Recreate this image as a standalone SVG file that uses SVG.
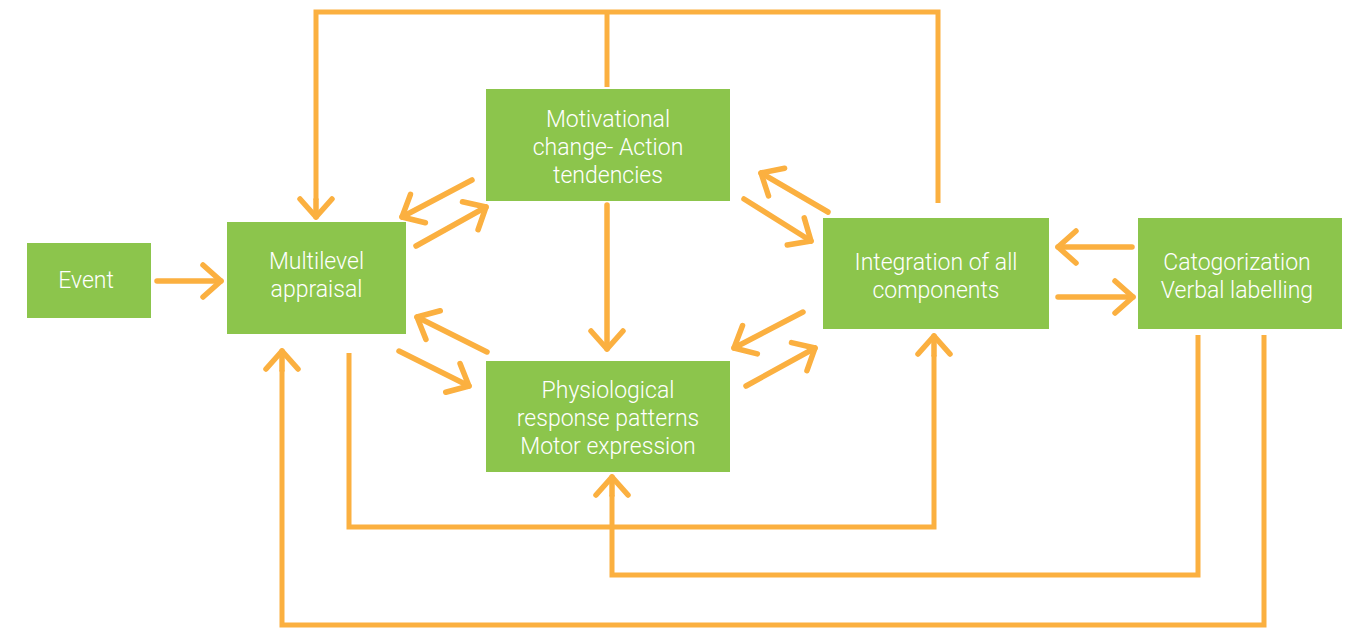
<svg xmlns="http://www.w3.org/2000/svg" width="1358" height="629" viewBox="0 0 1358 629">
  <defs>
    <style>
      .box { fill: #8CC54C; }
      .lbl { fill: #ffffff; font-family: Roboto, "Liberation Sans", sans-serif; font-size: 23px; font-weight: 300; text-anchor: middle; }
      .wire { fill: none; stroke: #FBB040; stroke-width: 5; stroke-linejoin: miter; }
      .arr { fill: none; stroke: #FBB040; stroke-width: 5.5; stroke-linecap: round; marker-end: url(#chev); }
    </style>
    <marker id="chev" markerUnits="userSpaceOnUse" viewBox="-24 -20 30 40" refX="0" refY="0" markerWidth="30" markerHeight="40" orient="auto">
      <path d="M-18,-16 L0,0 L-18,16" fill="none" stroke="#FBB040" stroke-width="5.5" stroke-linecap="round" stroke-linejoin="round"/>
    </marker>
  </defs>

  <g id="connectors">
    <!-- top feedback loop -->
    <polyline class="wire" points="607,87 607,12"/>
    <polyline class="wire" points="938,203 938,12 316,12 316,200"/>
    <line class="arr" x1="316" y1="200" x2="316" y2="217"/>
    <!-- event to appraisal -->
    <line class="arr" x1="157" y1="281" x2="221" y2="281"/>
    <!-- appraisal <-> motivational -->
    <line class="arr" x1="472" y1="180" x2="402" y2="217"/>
    <line class="arr" x1="416" y1="246" x2="486" y2="207"/>
    <!-- motivational <-> integration -->
    <line class="arr" x1="828" y1="212" x2="761" y2="173"/>
    <line class="arr" x1="744" y1="199" x2="811" y2="241"/>
    <!-- appraisal <-> physiological -->
    <line class="arr" x1="487" y1="352" x2="417" y2="317"/>
    <line class="arr" x1="399" y1="351" x2="469" y2="386"/>
    <!-- physiological <-> integration -->
    <line class="arr" x1="803" y1="312" x2="734" y2="348"/>
    <line class="arr" x1="746" y1="386" x2="815" y2="348"/>
    <!-- motivational to physiological -->
    <line class="arr" x1="607" y1="205" x2="607" y2="349"/>
    <!-- integration <-> categorization -->
    <line class="arr" x1="1132" y1="247" x2="1058" y2="247"/>
    <line class="arr" x1="1058" y1="297" x2="1133" y2="297"/>
    <!-- lower feedback loops -->
    <polyline class="wire" points="349,353 349,527 934,527 934,355"/>
    <line class="arr" x1="934" y1="355" x2="934" y2="336"/>
    <polyline class="wire" points="1198,335 1198,575 612,575 612,495"/>
    <line class="arr" x1="612" y1="495" x2="612" y2="477"/>
    <polyline class="wire" points="1264,335 1264,625 282,625 282,370"/>
    <line class="arr" x1="282" y1="370" x2="282" y2="351"/>
  </g>

  <g id="event">
    <rect class="box" x="27" y="243" width="124" height="75"/>
    <text class="lbl" x="86" y="288">Event</text>
  </g>

  <g id="appraisal">
    <rect class="box" x="227" y="222" width="179" height="112"/>
    <text class="lbl" x="316.5" y="269">Multilevel</text>
    <text class="lbl" x="316.5" y="297">appraisal</text>
  </g>

  <g id="motivational">
    <rect class="box" x="486" y="89" width="244" height="112"/>
    <text class="lbl" x="608" y="127">Motivational</text>
    <text class="lbl" x="608" y="155">change- Action</text>
    <text class="lbl" x="608" y="183">tendencies</text>
  </g>

  <g id="physiological">
    <rect class="box" x="486" y="361" width="244" height="111"/>
    <text class="lbl" x="608" y="398">Physiological</text>
    <text class="lbl" x="608" y="426">response patterns</text>
    <text class="lbl" x="608" y="454">Motor expression</text>
  </g>

  <g id="integration">
    <rect class="box" x="823" y="218" width="226" height="111"/>
    <text class="lbl" x="936" y="270">Integration of all</text>
    <text class="lbl" x="936" y="298">components</text>
  </g>

  <g id="categorization">
    <rect class="box" x="1138" y="218" width="204" height="111"/>
    <text class="lbl" x="1237" y="270">Catogorization</text>
    <text class="lbl" x="1237" y="298">Verbal labelling</text>
  </g>
</svg>
